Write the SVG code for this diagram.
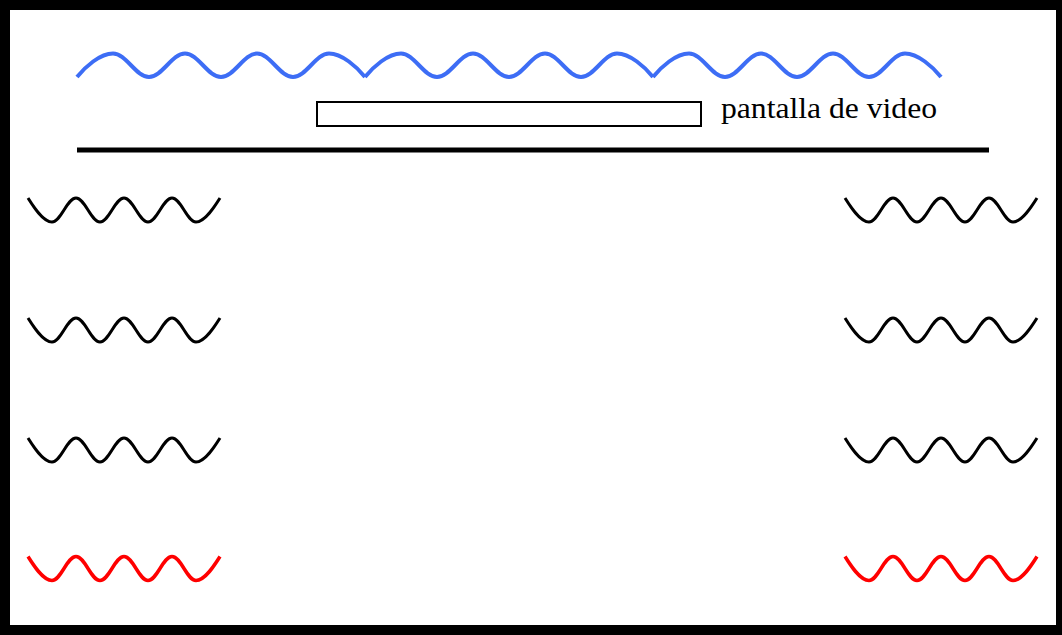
<svg xmlns="http://www.w3.org/2000/svg" xmlns:xlink="http://www.w3.org/1999/xlink" width="1062" height="635" viewBox="0 0 1062 635">
  <style>
    .wave { fill: none; stroke-linecap: butt; stroke-linejoin: round; }
    .blue { stroke: #3d6df5; stroke-width: 4; }
    .black { stroke: #000; stroke-width: 3; }
    .red { stroke: #ff0000; stroke-width: 3.5; }
    .label { font-family: "Liberation Serif", "Times New Roman", serif; font-size: 29px; fill: #000; }
  </style>
  <defs>
    <path id="bluewave" d="M0,0 c8,-10 23,-23.5 36,-23.5 s23,23.5 36,23.5 s23,-23.5 36,-23.5 s23,23.5 36,23.5 s23,-23.5 36,-23.5 s23,23.5 36,23.5 s23,-23.5 36,-23.5 c13,0 28,13.5 36,23.5"/>
    <path id="smallwave" d="M0,0 c5,8 15,24 24,24 s15,-24 24,-24 s15,24 24,24 s15,-24 24,-24 s15,24 24,24 s15,-24 24,-24 s15,24 24,24 c9,0 19,-16 24,-24"/>
  </defs>
  <rect width="1062" height="635" fill="#fff"/>
  <g id="frame">
    <rect x="5" y="5" width="1056" height="625" fill="none" stroke="#000" stroke-width="10"/>
  </g>
  <g id="blue-wave">
    <use xlink:href="#bluewave" class="wave blue" transform="translate(77,77)"/>
    <use xlink:href="#bluewave" class="wave blue" transform="translate(365,77)"/>
    <use xlink:href="#bluewave" class="wave blue" transform="translate(653,77)"/>
  </g>
  <g id="video-screen">
    <rect x="317" y="102" width="384" height="24" fill="#fff" stroke="#000" stroke-width="2"/>
    <text class="label" x="721" y="118" textLength="216" lengthAdjust="spacingAndGlyphs">pantalla de video</text>
  </g>
  <g id="connectors">
    <line x1="77" y1="150" x2="989" y2="150" stroke="#000" stroke-width="5"/>
  </g>
  <g id="left-waves">
    <use xlink:href="#smallwave" class="wave black" transform="translate(28,198)"/>
    <use xlink:href="#smallwave" class="wave black" transform="translate(28,318)"/>
    <use xlink:href="#smallwave" class="wave black" transform="translate(28,438)"/>
    <use xlink:href="#smallwave" class="wave red" transform="translate(28,556.5)"/>
  </g>
  <g id="right-waves">
    <use xlink:href="#smallwave" class="wave black" transform="translate(845,198)"/>
    <use xlink:href="#smallwave" class="wave black" transform="translate(845,318)"/>
    <use xlink:href="#smallwave" class="wave black" transform="translate(845,438)"/>
    <use xlink:href="#smallwave" class="wave red" transform="translate(845,556.5)"/>
  </g>
</svg>
